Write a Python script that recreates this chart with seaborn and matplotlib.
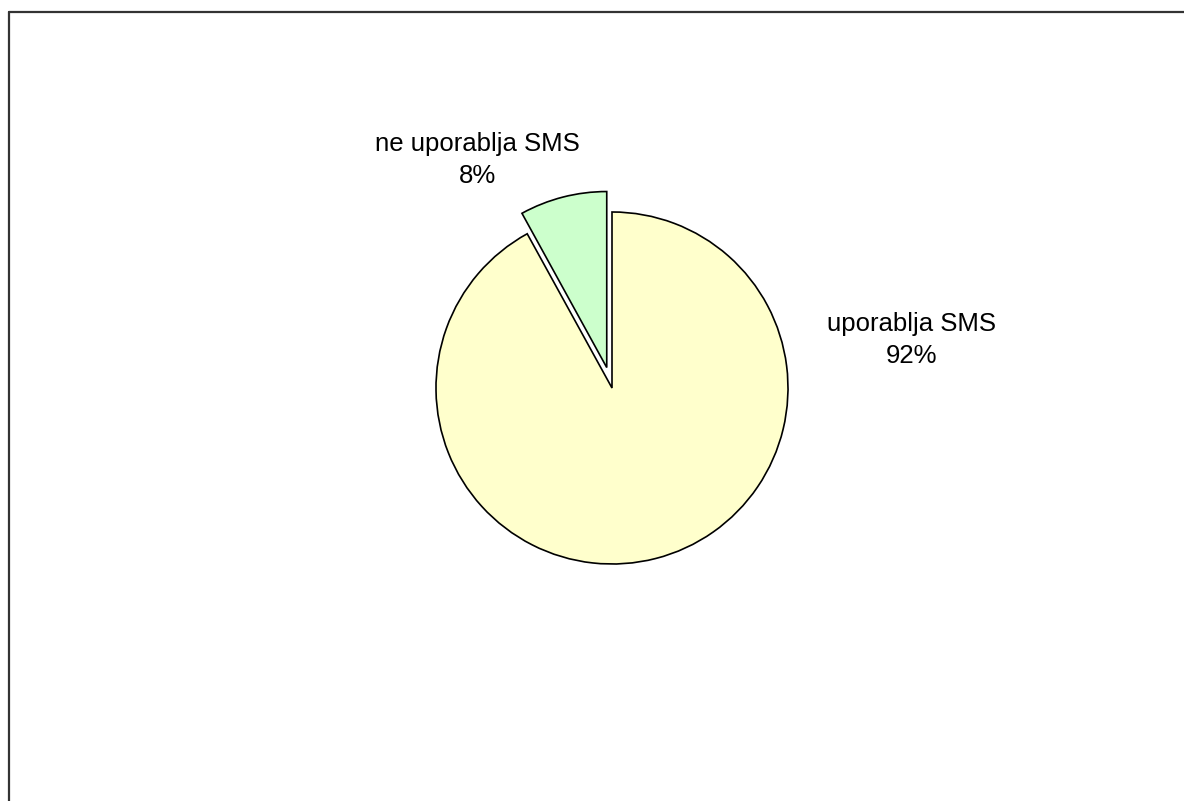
import matplotlib
matplotlib.use("Agg")
import matplotlib.pyplot as plt
import seaborn as sns
from matplotlib.lines import Line2D

# data
labels = ['uporablja SMS', 'ne uporablja SMS']
shares = [92, 8]
colors = ['#FFFFCC', '#CCFFCC']
explode = [0, 0.12]

sns.set_theme(style="white")
plt.rcParams['font.family'] = ['Liberation Sans', 'DejaVu Sans']

W, H = 1184, 801
fig = plt.figure(figsize=(W / 100, H / 100), dpi=100)
fig.patch.set_facecolor('white')

# pie centre and radius in pixels
cx, cy, r = 612, 388, 176
half = 300
ax = fig.add_axes([(cx - half) / W, (H - cy - half) / H, 2 * half / W, 2 * half / H])
ax.pie(shares, colors=colors, explode=explode, startangle=90, counterclock=False,
       wedgeprops=dict(edgecolor='black', linewidth=1.2))
lim = half / r
ax.set_xlim(-lim, lim)
ax.set_ylim(-lim, lim)
ax.set_aspect('equal')
ax.axis('off')

# labels
label_pos = [(1.699, 0.273), (-0.767, 1.295)]
for lab, val, (x, y) in zip(labels, shares, label_pos):
    ax.text(x, y, f"{lab}\n{val}%", ha='center', va='center', fontsize=18.5,
            linespacing=1.4, color='black')

# outer frame (open at right / bottom)
lx, ty = 8.5 / W, 1 - 12 / H
fig.add_artist(Line2D([lx, lx], [0, ty], transform=fig.transFigure, color='#333333', lw=1.6))
fig.add_artist(Line2D([lx, 1], [ty, ty], transform=fig.transFigure, color='#333333', lw=1.6))

fig.savefig('out.png', dpi=100)
